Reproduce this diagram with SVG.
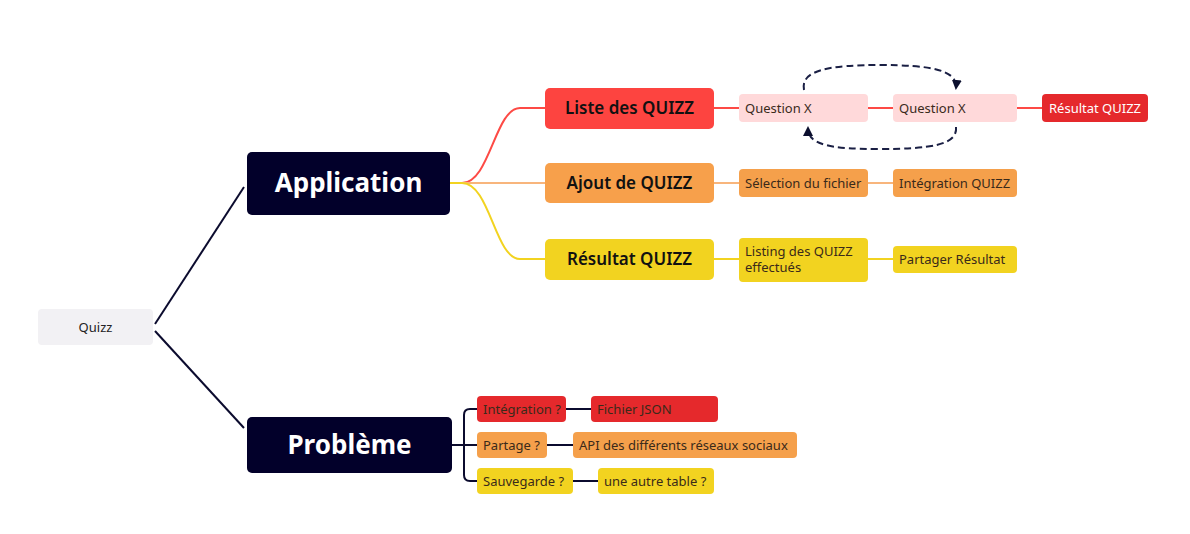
<svg xmlns="http://www.w3.org/2000/svg" width="1190" height="534" viewBox="0 0 1190 534">
<defs>
<marker id="ah" viewBox="0 0 10 10" refX="8" refY="5" markerWidth="5" markerHeight="5" orient="auto-start-reverse">
<path d="M0,0 L10,5 L0,10 z" fill="#0b0f2e"/>
</marker>
</defs>
<style>
text{font-family:"Noto Sans","Liberation Sans",sans-serif;}
.t1{font-size:26px;font-weight:bold;fill:#fff;text-anchor:middle;}
.t2{font-size:17px;font-weight:600;fill:#111;text-anchor:middle;}
.t3{font-size:13px;fill:#3a2a1a;}
.root{font-size:13px;fill:#222;text-anchor:middle;}
.c{fill:none;stroke-width:2;}
</style>
<rect width="1190" height="534" fill="#fff"/>
<g id="connectors">
<path class="c" stroke="#0b0b2e" d="M155,324 L244,187"/>
<path class="c" stroke="#0b0b2e" d="M155,331 L244,428"/>
<path class="c" stroke="#fd4a45" d="M462,183 C490,183 495,108 520,108 L545,108"/>
<path class="c" stroke="#f8b57c" d="M450,183 L545,183"/>
<path class="c" stroke="#f2d320" d="M462,183 C490,183 495,259 520,259 L545,259"/>
<path class="c" stroke="#f2d320" d="M450,183 L462,183"/>
<path class="c" stroke="#fd4a45" d="M714,108 L739,108 M868,108 L893,108 M1017,108 L1042,108"/>
<path class="c" stroke="#f8b57c" d="M714,183 L739,183 M868,183 L893,183"/>
<path class="c" stroke="#f2d320" d="M714,259 L739,259 M868,259 L893,259"/>
<path class="c" stroke="#0b0b2e" d="M452,445 L464,445 M477,409 L470,409 Q464,409 464,415 L464,475 Q464,481 470,481 L477,481 M464,445 L477,445"/>
<path class="c" stroke="#0b0b2e" d="M566,409 L591,409 M547,445 L573,445 M573,481 L598,481"/>
<path fill="none" stroke="#1a1f44" stroke-width="2" stroke-dasharray="7,4" marker-end="url(#ah)" d="M804,90 C800,70 830,65 880,65 C930,65 958,70 956,88"/>
<path fill="none" stroke="#1a1f44" stroke-width="2" stroke-dasharray="7,4" marker-end="url(#ah)" d="M956,127 C958,145 930,149 880,149 C830,149 808,145 808,128"/>
</g>
<g id="n-quizz"><rect x="38" y="309" width="115" height="36" rx="4" fill="#f2f1f4"/><text class="root" x="95.5" y="332">Quizz</text></g>
<g id="n-application"><rect x="247" y="152" width="203" height="63" rx="5" fill="#02002a"/><text class="t1" x="348.5" y="192">Application</text></g>
<g id="n-probleme"><rect x="247" y="417" width="205" height="56" rx="5" fill="#02002a"/><text class="t1" x="349.5" y="454">Problème</text></g>
<g id="n-liste"><rect x="545" y="88" width="169" height="41" rx="5" fill="#fd4440"/><text class="t2" x="629.5" y="114">Liste des QUIZZ</text></g>
<g id="n-ajout"><rect x="545" y="163" width="169" height="40" rx="5" fill="#f7a04b"/><text class="t2" x="629.5" y="189">Ajout de QUIZZ</text></g>
<g id="n-resultat"><rect x="545" y="239" width="169" height="41" rx="5" fill="#f2d320"/><text class="t2" x="629.5" y="265">Résultat QUIZZ</text></g>
<g id="n-q1"><rect x="739" y="94" width="129" height="28" rx="4" fill="#ffd9da"/><text class="t3" x="745" y="113" fill="#222">Question X</text></g>
<g id="n-q2"><rect x="893" y="94" width="124" height="28" rx="4" fill="#ffd9da"/><text class="t3" x="899" y="113">Question X</text></g>
<g id="n-res2"><rect x="1042" y="94" width="106" height="28" rx="4" fill="#e5292c"/><text x="1095" y="113" font-size="13" fill="#fff" text-anchor="middle">Résultat QUIZZ</text></g>
<g id="n-sel"><rect x="739" y="169" width="129" height="28" rx="4" fill="#f5a04b"/><text class="t3" x="745" y="188">Sélection du fichier</text></g>
<g id="n-integ"><rect x="893" y="169" width="124" height="28" rx="4" fill="#f5a04b"/><text class="t3" x="899" y="188">Intégration QUIZZ</text></g>
<g id="n-listing"><rect x="739" y="238" width="129" height="44" rx="4" fill="#f2d320"/><text class="t3" x="745" y="256">Listing des QUIZZ</text><text class="t3" x="745" y="272">effectués</text></g>
<g id="n-partager"><rect x="893" y="246" width="124" height="27" rx="4" fill="#f2d320"/><text class="t3" x="899" y="264">Partager Résultat</text></g>
<g id="n-integq"><rect x="477" y="396" width="89" height="26" rx="4" fill="#e5292c"/><text class="t3" x="483" y="414">Intégration ?</text></g>
<g id="n-json"><rect x="591" y="396" width="127" height="26" rx="4" fill="#e5292c"/><text class="t3" x="597" y="414">Fichier JSON</text></g>
<g id="n-partage"><rect x="477" y="432" width="70" height="26" rx="4" fill="#f5a04b"/><text class="t3" x="483" y="450">Partage ?</text></g>
<g id="n-api"><rect x="573" y="432" width="224" height="26" rx="4" fill="#f5a04b"/><text class="t3" x="579" y="450">API des différents réseaux sociaux</text></g>
<g id="n-sauv"><rect x="477" y="468" width="96" height="26" rx="4" fill="#f2d320"/><text class="t3" x="483" y="486">Sauvegarde ?</text></g>
<g id="n-table"><rect x="598" y="468" width="116" height="26" rx="4" fill="#f2d320"/><text class="t3" x="604" y="486">une autre table ?</text></g>
</svg>
